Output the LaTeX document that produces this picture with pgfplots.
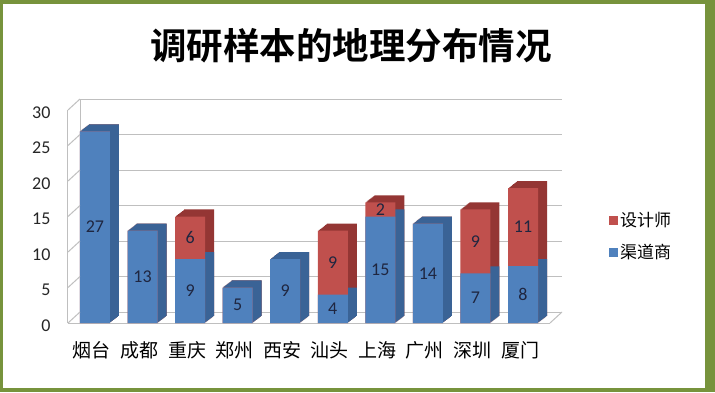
\documentclass[border=0pt]{standalone}
\usepackage{fontspec}
\setmainfont{Carlito}
\newfontfamily\cjk{Noto Sans CJK SC}
\newfontfamily\cjkb{Noto Sans CJK SC Bold}
\usepackage{pgfplots}
\usepackage{pgfplotstable}
\pgfplotsset{compat=1.18}
\definecolor{frame}{HTML}{77933C}
\definecolor{bfront}{HTML}{4F81BD}
\definecolor{bside}{HTML}{3A6396}
\definecolor{rfront}{HTML}{C0504D}
\definecolor{rside}{HTML}{943634}
\definecolor{gridc}{HTML}{BFBFBF}
\definecolor{lab}{HTML}{1F2640}
\pgfplotstableread{
x blue red
0 27 0
1 13 0
2 9 6
3 5 0
4 9 0
5 4 9
6 15 2
7 14 0
8 7 9
9 8 11
}\data
\pgfplotstableread{
x blue red
2 9 6
5 4 9
6 15 2
8 7 9
9 8 11
}\reddata
\begin{document}
\begin{tikzpicture}[x=1pt,y=1pt]
\fill[frame] (0,0) rectangle (715,392);
\fill[white] (3,4) rectangle (705,388);
\node[font=\cjkb\fontsize{36.5}{38}\selectfont] at (351,346) {调研样本的地理分布情况};
% back wall
\begin{axis}[at={(80pt,80pt)}, anchor=south west, scale only axis,
  width=482pt, height=213pt, xmin=-0.567, xmax=9.567, ymin=0, ymax=30,
  axis lines*=left, axis line style={gridc, line width=1pt},
  x axis line style={draw=none},
  xtick=\empty, ytick={0,5,...,30}, yticklabels={}, major tick length=0pt,
  ymajorgrids, grid style={gridc, line width=1pt}]
\addplot[draw=none, forget plot] coordinates {(0,0)};
\end{axis}
% front
\begin{axis}[at={(68pt,69pt)}, anchor=south west, scale only axis,
  width=482pt, height=213pt, xmin=-0.567, xmax=9.567, ymin=0, ymax=30,
  clip=false, axis lines*=left, axis line style={gridc, line width=1pt},
  xtick={0,...,9},
  xticklabels={烟台,成都,重庆,郑州,西安,汕头,上海,广州,深圳,厦门},
  xticklabel style={font=\cjk\fontsize{19}{19}\selectfont, yshift=-15pt, xshift=-3pt},
  ytick={0,5,...,30}, major tick length=0pt,
  /pgf/number format/assume math mode=true,
  yticklabel style={font=\fontsize{18}{18}\selectfont, color=black!85, xshift=-14pt, yshift=-2.5pt},
  legend style={at={(1.115,0.406)}, anchor=west, draw=none, fill=none,
    font=\cjk\fontsize{17}{17}\selectfont, row sep=12pt},
  legend cell align=left,
  legend image code/.code={\fill[#1] (0pt,-4.5pt) rectangle (9.5pt,4.5pt);}]
\pgfplotsinvokeforeach{1,...,9}{
  \addplot[ybar, bar width=30pt, bar shift=#1pt, yshift={0.78*#1pt}, fill=rside, draw=none, forget plot]
    table[x=x, y expr=\thisrow{blue}+\thisrow{red}]{\data};
}
\pgfplotsinvokeforeach{1,...,9}{
  \addplot[ybar, bar width=30pt, bar shift=#1pt, yshift={0.78*#1pt}, fill=bside, draw=none, forget plot]
    table[x=x, y=blue]{\data};
}
\addplot[ybar, bar width=30pt, bar shift=0pt, fill=rfront, draw=none]
  table[x=x, y expr=\thisrow{blue}+\thisrow{red}]{\data};
\addlegendentry{设计师}
\addplot[ybar, bar width=30pt, bar shift=0pt, fill=bfront, draw=none]
  table[x=x, y=blue]{\data};
\addlegendentry{渠道商}
\addplot[draw=none, no markers, forget plot, nodes near coords, point meta=explicit,
  every node near coord/.append style={anchor=center, font=\fontsize{18}{18}\selectfont, color=lab}]
  table[x=x, y expr=\thisrow{blue}/2, meta=blue]{\data};
\addplot[draw=none, no markers, forget plot, nodes near coords, point meta=explicit,
  every node near coord/.append style={anchor=center, font=\fontsize{18}{18}\selectfont, color=lab}]
  table[x=x, y expr=\thisrow{blue}+\thisrow{red}/2, meta=red]{\reddata};
\pgfplotsinvokeforeach{0,5,...,30}{
  \draw[gridc, line width=1pt] (axis cs:-0.567,#1) -- ++(12pt,11pt);
}
\draw[gridc, line width=1pt] (axis cs:9.567,0) -- ++(12pt,11pt);
\end{axis}
\end{tikzpicture}
\end{document}
